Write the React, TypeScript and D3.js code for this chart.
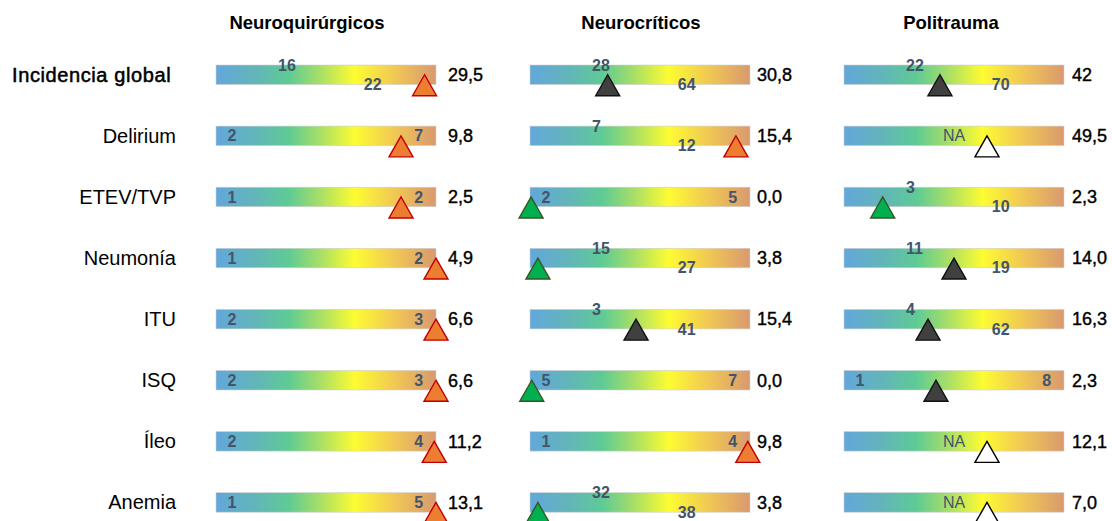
import React, { useEffect } from "react";
import * as d3 from "d3";

// ---------- data ----------
const columns = ["Neuroquirúrgicos", "Neurocríticos", "Politrauma"];
const rows = ["Incidencia global", "Delirium", "ETEV/TVP", "Neumonía", "ITU", "ISQ", "Íleo", "Anemia"];

// reference range (low / high) per column, null = NA
const lowNQ = [16, 2, 1, 1, 2, 2, 2, 1];
const highNQ = [22, 7, 2, 2, 3, 3, 4, 5];
const lowNC = [28, 7, 2, 15, 3, 5, 1, 32];
const highNC = [64, 12, 5, 27, 41, 7, 4, 38];
const lowPT: (number | null)[] = [22, null, 3, 11, 4, 1, null, null];
const highPT: (number | null)[] = [70, null, 10, 19, 62, 8, null, null];

// observed values (as printed)
const valueNQ = ["29,5", "9,8", "2,5", "4,9", "6,6", "6,6", "11,2", "13,1"];
const valueNC = ["30,8", "15,4", "0,0", "3,8", "15,4", "0,0", "9,8", "3,8"];
const valuePT = ["42", "49,5", "2,3", "14,0", "16,3", "2,3", "12,1", "7,0"];

// label arrangement on the bar: "edge" (both at ends), "mid" (staggered), "na"
const layoutNQ = ["mid", "edge", "edge", "edge", "edge", "edge", "edge", "edge"];
const layoutNC = ["mid", "mid", "edge", "mid", "mid", "edge", "edge", "mid"];
const layoutPT = ["mid", "na", "mid", "mid", "mid", "edge", "na", "na"];

// relative marker position along the bar (0 = left end, 1 = right end)
const markerNQ = [0.948, 0.841, 0.841, 1.0, 1.0, 1.0, 0.992, 1.0];
const markerNC = [0.353, 0.936, 0.005, 0.036, 0.482, 0.008, 0.99, 0.036];
const markerPT = [0.436, 0.65, 0.176, 0.5, 0.382, 0.418, 0.65, 0.65];

const lows = [lowNQ, lowNC, lowPT];
const highs = [highNQ, highNC, highPT];
const values = [valueNQ, valueNC, valuePT];
const layouts = [layoutNQ, layoutNC, layoutPT];
const markers = [markerNQ, markerNC, markerPT];

// ---------- layout ----------
const W = 1112;
const H = 521;
const BAR_W = 220;
const BAR_H = 19.5;
const headerX = [307, 641, 951];
const valueGap = [12, 7, 8];

const labelColor = "#44546a";
const font = "'Liberation Sans', Arial, Helvetica, sans-serif";

const markerStyle: Record<string, { fill: string; stroke: string }> = {
  high: { fill: "#ed7d31", stroke: "#c00000" },
  low: { fill: "#00b050", stroke: "#375623" },
  mid: { fill: "#404040", stroke: "#111111" },
  na: { fill: "#ffffff", stroke: "#000000" },
};

export default function App() {
  useEffect(() => {
    document.body.style.margin = "0";
  }, []);

  const xCol = d3.scalePoint<number>().domain([0, 1, 2]).range([216, 844]);
  const yRow = d3.scalePoint<string>().domain(rows).range([74.75, 502.45]);

  const tri = (cx: number, tipY: number) => {
    const p = d3.path();
    p.moveTo(cx, tipY);
    p.lineTo(cx - 12, tipY + 21);
    p.lineTo(cx + 12, tipY + 21);
    p.closePath();
    return p.toString();
  };

  const small = { fontSize: 16, fontWeight: "bold" as const, fill: labelColor };

  return (
    <svg width={W} height={H} style={{ display: "block" }} fontFamily={font}>
      <defs>
        <linearGradient id="barGrad" x1="0" x2="1" y1="0" y2="0">
          <stop offset="0" stopColor="#62a7dc" />
          <stop offset="0.18" stopColor="#62b6b8" />
          <stop offset="0.33" stopColor="#5ecb95" />
          <stop offset="0.47" stopColor="#a6de68" />
          <stop offset="0.63" stopColor="#fdfc32" />
          <stop offset="0.8" stopColor="#f2cb52" />
          <stop offset="1" stopColor="#d9996f" />
        </linearGradient>
      </defs>

      {columns.map((c, ci) => (
        <text
          key={"h" + ci}
          x={headerX[ci]}
          y={29}
          textAnchor="middle"
          fontSize={18.5}
          fontWeight="bold"
          fill="#000"
        >
          {c}
        </text>
      ))}

      {rows.map((r, ri) => (
        <text
          key={"r" + ri}
          x={ri === 0 ? 12 : 176}
          y={yRow(r)!}
          dy="0.35em"
          textAnchor={ri === 0 ? "start" : "end"}
          fontSize={20}
          fontWeight="normal"
          letterSpacing={ri === 0 ? 0.6 : 0}
          stroke={ri === 0 ? "#000" : "none"}
          strokeWidth={ri === 0 ? 0.5 : 0}
          fill="#000"
        >
          {r}
        </text>
      ))}

      {columns.map((c, ci) => {
        const x0 = xCol(ci)!;
        const xb = d3.scaleLinear().domain([0, 1]).range([x0, x0 + BAR_W]);
        return rows.map((r, ri) => {
          const cy = yRow(r)!;
          const top = cy - BAR_H / 2;
          const bottom = cy + BAR_H / 2;
          const lo = lows[ci][ri];
          const hi = highs[ci][ri];
          const vStr = values[ci][ri];
          const v = parseFloat(vStr.replace(",", "."));
          const lay = layouts[ci][ri];
          let status = "na";
          if (lo != null && hi != null) {
            status = v > hi ? "high" : v < lo ? "low" : "mid";
          }
          const ms = markerStyle[status];
          const mx = xb(markers[ci][ri]);
          return (
            <g key={ci + "-" + ri}>
              <rect
                x={x0}
                y={top}
                width={BAR_W}
                height={BAR_H}
                fill="url(#barGrad)"
                stroke="#cfcfcf"
                strokeWidth={0.6}
              />
              {lay === "edge" && (
                <>
                  <text x={xb(0.073)} y={cy} dy="0.35em" textAnchor="middle" {...small}>
                    {lo}
                  </text>
                  <text x={xb(0.921)} y={cy} dy="0.35em" textAnchor="middle" {...small}>
                    {hi}
                  </text>
                </>
              )}
              {lay === "mid" && (
                <>
                  <text x={xb(0.282)} y={top} dy="0.35em" textAnchor="start" {...small}>
                    {lo}
                  </text>
                  <text x={xb(0.712)} y={bottom} dy="0.35em" textAnchor="middle" {...small}>
                    {hi}
                  </text>
                </>
              )}
              {lay === "na" && (
                <text x={xb(0.5)} y={cy} dy="0.35em" textAnchor="middle" fontSize={16} fill={labelColor}>
                  NA
                </text>
              )}
              <path d={tri(mx, cy)} fill={ms.fill} stroke={ms.stroke} strokeWidth={1.4} strokeLinejoin="miter" />
              <text
                x={x0 + BAR_W + valueGap[ci]}
                y={cy}
                dy="0.35em"
                textAnchor="start"
                fontSize={18}
                fill="#000"
                stroke="#000"
                strokeWidth={0.4}
              >
                {vStr}
              </text>
            </g>
          );
        });
      })}
    </svg>
  );
}
